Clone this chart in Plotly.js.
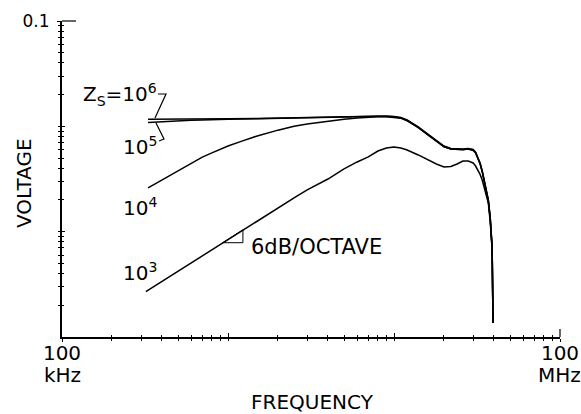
<!DOCTYPE html>
<html><head><meta charset="utf-8">
<script src="https://cdn.plot.ly/plotly-3.0.1.min.js"></script>
<style>html,body{margin:0;padding:0;background:#fff}</style>
</head><body><div id="chart" style="width:581px;height:414px"></div>
<script>
// Frequencies in MHz, voltages in volts
const FREQ_ZS6 = [0.33,0.5,0.7,1,1.5,2,3,4,5,6,7,8,9,10,11,12,13,14,16,18,20,22,24,26,28,30,31,32,33,34,35,36,37,38,39,39.5];
const V_ZS6 = [0.0117,0.0117,0.01175,0.0118,0.0119,0.0120,0.0121,0.0122,0.0123,0.0124,0.0125,0.01255,0.01253,0.0124,0.01213,0.01148,0.01064,0.00986,0.00845,0.00742,0.0065,0.00617,0.0061,0.0061,0.00617,0.00603,0.0057,0.00512,0.00449,0.00377,0.00309,0.00249,0.0020,0.00135,0.000715,0.000136];

const FREQ_ZS5 = [0.33,0.4,0.5,0.6,0.7,0.8,1,1.5,2,3,4,5,6,7,8,9,10,11,12,13,14,16,18,20,22,24,26,28,30,31,32,33,34,35,36,37,38,39,39.5];
const V_ZS5 = [0.0109,0.0111,0.0113,0.01145,0.0115,0.0116,0.01168,0.01183,0.0119,0.0120,0.0121,0.0122,0.0123,0.0124,0.01245,0.0124,0.0123,0.0120,0.01135,0.0105,0.00975,0.00835,0.00733,0.00643,0.0061,0.00603,0.00603,0.0061,0.00596,0.00564,0.00507,0.00445,0.00374,0.00306,0.00247,0.00198,0.00134,0.00071,0.000136];

const FREQ_ZS4 = [0.33,0.4,0.5,0.6,0.7,0.8,1,1.2,1.5,2,2.5,3,4,5,6,7,8,9,10,11,12,13,14,16,18,20,22,24,26,28,30,31,32,33,34,35,36,37,38,39,39.5];
const V_ZS4 = [0.0026,0.00309,0.00377,0.0045,0.0051,0.0056,0.0065,0.0072,0.0081,0.0092,0.0100,0.0105,0.0112,0.0117,0.0120,0.0122,0.0123,0.0123,0.0122,0.01195,0.0113,0.0105,0.0097,0.0083,0.0073,0.0064,0.0061,0.006,0.006,0.0061,0.0059,0.0056,0.005,0.0044,0.0037,0.003,0.00245,0.00196,0.00133,0.0007,0.000136];

const FREQ_ZS3 = [0.32,0.5,0.7,1,1.5,2,2.5,3,4,5,6,7,8,9,10,11,12,14,16,18,20,22,24,26,28,30,31,32,33,34,35,36,37,38,39,39.5];
const V_ZS3 = [0.00027,0.000422,0.00059,0.000845,0.00127,0.00168,0.00209,0.00249,0.00316,0.00394,0.00459,0.00512,0.00583,0.00623,0.00637,0.00623,0.00596,0.00535,0.00479,0.00439,0.00411,0.00416,0.00439,0.00469,0.00469,0.00449,0.0042,0.00385,0.0035,0.00309,0.0026,0.00223,0.00187,0.00124,0.00067,0.000136];

// slope marker (6 dB/octave) placed on the Zs=10^3 line between these frequencies
const SLOPE_MARK_F = [0.93, 1.23];

const X_LABELED = [0.1, 100];
const X_LABEL_TEXT = ['100', '100'];
const X_UNITS = ['kHz', 'MHz'];
const X_DECADES = [1, 10];
const X_MINOR = [0.2,0.3,0.4,0.5,0.6,0.7,0.8,0.9,1,2,3,4,5,6,7,8,9,10,20,30,40,50,60,70,80,90];
const Y_LABELED = [0.1];
const Y_LABEL_TEXT = ['0.1'];
const Y_DECADES = [0.001, 0.01];
const Y_MINOR = [0.0002,0.0003,0.0004,0.0005,0.0006,0.0007,0.0008,0.0009,0.001,0.002,0.003,0.004,0.005,0.006,0.007,0.008,0.009,0.01,0.02,0.03,0.04,0.05,0.06,0.07,0.08,0.09];

const FONT = 'DejaVu Sans, Liberation Sans, sans-serif';
const L = 62, T = 21, W = 498, H = 316;
const px = x => (x - L) / W;
const py = y => (T + H - y) / H;

function interpLog(fs, vs, f) {
  const lf = Math.log10(f);
  for (let i = 0; i < fs.length - 1; i++) {
    const a = Math.log10(fs[i]), b = Math.log10(fs[i + 1]);
    if (lf >= a && lf <= b) {
      const t = (lf - a) / (b - a);
      return Math.pow(10, Math.log10(vs[i]) + t * (Math.log10(vs[i + 1]) - Math.log10(vs[i])));
    }
  }
  return vs[0];
}
const v1 = interpLog(FREQ_ZS3, V_ZS3, SLOPE_MARK_F[0]);
const v2 = interpLog(FREQ_ZS3, V_ZS3, SLOPE_MARK_F[1]);

const line = {color: 'black', width: 1.5};
const traces = [
  {x: FREQ_ZS6, y: V_ZS6, mode: 'lines', line: line, name: 'Zs=1e6'},
  {x: FREQ_ZS5, y: V_ZS5, mode: 'lines', line: line, name: 'Zs=1e5'},
  {x: FREQ_ZS4, y: V_ZS4, mode: 'lines', line: line, name: 'Zs=1e4'},
  {x: FREQ_ZS3, y: V_ZS3, mode: 'lines', line: line, name: 'Zs=1e3'},
  {x: [SLOPE_MARK_F[0], SLOPE_MARK_F[1], SLOPE_MARK_F[1], SLOPE_MARK_F[0]],
   y: [v1, v1, v2, v1], mode: 'lines', line: {color: 'black', width: 1}, name: 'slope'},
  {x: [1], y: [0.01], xaxis: 'x2', yaxis: 'y2', mode: 'markers', marker: {opacity: 0}, hoverinfo: 'skip'}
];

const axBase = {showgrid: false, zeroline: false, type: 'log', tickmode: 'array', tickcolor: 'black', tickwidth: 1};
const layout = {
  width: 581, height: 414,
  margin: {l: L, r: 581 - L - W, t: T, b: 414 - T - H},
  paper_bgcolor: 'white', plot_bgcolor: 'white',
  showlegend: false,
  font: {family: FONT, color: 'black', size: 20},
  xaxis: Object.assign({}, axBase, {
    range: [-1, 2], tickvals: X_LABELED, ticktext: X_LABEL_TEXT,
    showline: true, linecolor: 'black', linewidth: 1.5,
    ticks: 'outside', ticklen: 3, ticklabelstandoff: -6,
    tickfont: {family: FONT, size: 20, color: 'black'},
    minor: {tickmode: 'array', tickvals: X_MINOR, ticks: 'outside', ticklen: 2, tickcolor: 'black'}
  }),
  xaxis2: Object.assign({}, axBase, {
    overlaying: 'x', anchor: 'y', side: 'bottom',
    range: [-1, 2], tickvals: X_DECADES, showticklabels: false, showline: false,
    ticks: 'inside', ticklen: 4,
    minor: {tickmode: 'array', tickvals: X_MINOR, ticks: 'inside', ticklen: 2, tickcolor: 'black'}
  }),
  yaxis: Object.assign({}, axBase, {
    range: [-4, -1], tickvals: Y_LABELED, ticktext: Y_LABEL_TEXT,
    showline: true, linecolor: 'black', linewidth: 2,
    ticks: 'outside', ticklen: 3, ticklabelstandoff: 4,
    tickfont: {family: FONT, size: 17, color: 'black'},
    minor: {tickmode: 'array', tickvals: Y_MINOR, ticks: 'outside', ticklen: 2, tickcolor: 'black'}
  }),
  yaxis2: Object.assign({}, axBase, {
    overlaying: 'y', anchor: 'x', side: 'left',
    range: [-4, -1], tickvals: Y_DECADES, showticklabels: false, showline: false,
    ticks: 'inside', ticklen: 3,
    minor: {tickmode: 'array', tickvals: Y_MINOR, ticks: 'inside', ticklen: 2, tickcolor: 'black'}
  }),
  annotations: [
    {text: 'Z<sub>S</sub>=10<sup>6</sup>', x: px(81), y: py(94), xanchor: 'left', yanchor: 'middle'},
    {text: '10<sup>5</sup>', x: px(121), y: py(146), xanchor: 'left', yanchor: 'middle'},
    {text: '10<sup>4</sup>', x: px(121), y: py(207), xanchor: 'left', yanchor: 'middle'},
    {text: '10<sup>3</sup>', x: px(121), y: py(272), xanchor: 'left', yanchor: 'middle'},
    {text: '6dB/OCTAVE', x: px(249), y: py(247), xanchor: 'left', yanchor: 'middle', font: {family: FONT, size: 21, color: 'black'}},
    {text: X_UNITS[0], x: px(62), y: py(375), xanchor: 'center', yanchor: 'middle'},
    {text: X_UNITS[1], x: px(559), y: py(375), xanchor: 'center', yanchor: 'middle'},
    {text: 'FREQUENCY', x: px(312), y: py(402), xanchor: 'center', yanchor: 'middle', font: {family: FONT, size: 20, color: 'black'}},
    {text: 'VOLTAGE', x: px(24), y: py(183), xanchor: 'center', yanchor: 'middle', textangle: -90}
  ].map(a => Object.assign({xref: 'paper', yref: 'paper', showarrow: false, font: {family: FONT, size: 20, color: 'black'}}, a)),
  shapes: [
    {type: 'path', path: `M ${px(158)} ${py(94)} L ${px(166)} ${py(94)} L ${px(155)} ${py(118)}`},
    {type: 'path', path: `M ${px(156)} ${py(123)} L ${px(164)} ${py(139)} L ${px(159)} ${py(141)}`},
    {type: 'line', x0: px(62), y0: py(21), x1: px(76), y1: py(21)},
    {type: 'line', x0: px(560), y0: py(337), x1: px(560), y1: py(329)}
  ].map(s => Object.assign({xref: 'paper', yref: 'paper', line: {color: 'black', width: 1.2}}, s))
};

Plotly.newPlot('chart', traces, layout, {staticPlot: true, displayModeBar: false});
</script>
</body></html>
